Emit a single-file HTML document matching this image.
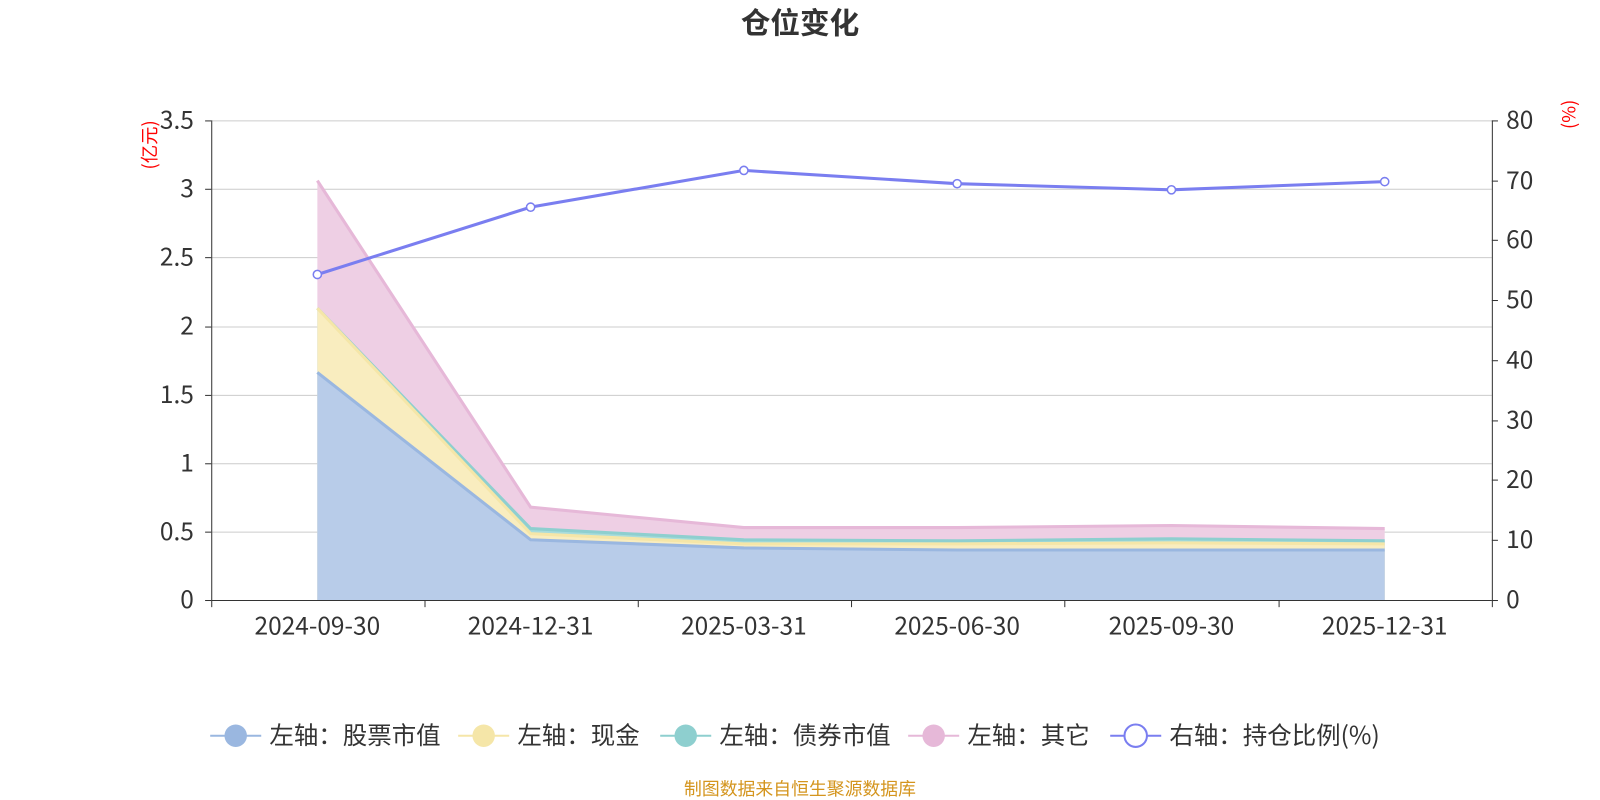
<!DOCTYPE html><html><head><meta charset="utf-8"><style>body{margin:0;background:#fff}svg{display:block}text{font-family:"Noto Sans CJK SC","Liberation Sans",sans-serif}</style></head><body>
<svg width="1600" height="800" viewBox="0 0 1568 784" xmlns="http://www.w3.org/2000/svg">
<text x="784" y="33" text-anchor="middle" font-size="29" font-weight="bold" fill="#333">仓位变化</text>
<g stroke="#ccc" stroke-width="1">
<line x1="207" x2="1462" y1="118.5" y2="118.5"/><line x1="207" x2="1462" y1="185.5" y2="185.5"/><line x1="207" x2="1462" y1="252.5" y2="252.5"/><line x1="207" x2="1462" y1="320.5" y2="320.5"/><line x1="207" x2="1462" y1="387.5" y2="387.5"/><line x1="207" x2="1462" y1="454.5" y2="454.5"/><line x1="207" x2="1462" y1="521.5" y2="521.5"/>
</g>
<polygon points="311,177 520,497 729,517 938,517 1148,515 1357,518 1357,588 311,588" fill="#eecfe4"/>
<polyline points="311,177 520,497 729,517 938,517 1148,515 1357,518" fill="none" stroke="#e6b8d8" stroke-width="3"/>
<polygon points="311,302 520,518 729,529 938,530 1148,528 1357,530 1357,588 311,588" fill="#a8dcdc"/>
<polyline points="311,302 520,518 729,529 938,530 1148,528 1357,530" fill="none" stroke="#8ecfcf" stroke-width="3"/>
<polygon points="311,302 520,523 729,533 938,533 1148,532 1357,533 1357,588 311,588" fill="#f9edbf"/>
<polyline points="311,302 520,523 729,533 938,533 1148,532 1357,533" fill="none" stroke="#f5e6a8" stroke-width="3"/>
<polygon points="311,365 520,529 729,537 938,539 1148,539 1357,539 1357,588 311,588" fill="#b8cce9"/>
<polyline points="311,365 520,529 729,537 938,539 1148,539 1357,539" fill="none" stroke="#9ab7e0" stroke-width="3"/>
<g stroke="#333" stroke-width="1">
<line x1="207.5" y1="118" x2="207.5" y2="588"/><line x1="1462.5" y1="118" x2="1462.5" y2="588"/>
<line x1="207" y1="588.5" x2="1462" y2="588.5"/>
<line x1="201" x2="207" y1="118.5" y2="118.5"/><line x1="201" x2="207" y1="185.5" y2="185.5"/><line x1="201" x2="207" y1="252.5" y2="252.5"/><line x1="201" x2="207" y1="320.5" y2="320.5"/><line x1="201" x2="207" y1="387.5" y2="387.5"/><line x1="201" x2="207" y1="454.5" y2="454.5"/><line x1="201" x2="207" y1="521.5" y2="521.5"/><line x1="201" x2="207" y1="588.5" y2="588.5"/>
<line x1="1462" x2="1468" y1="118.5" y2="118.5"/><line x1="1462" x2="1468" y1="177.5" y2="177.5"/><line x1="1462" x2="1468" y1="235.5" y2="235.5"/><line x1="1462" x2="1468" y1="294.5" y2="294.5"/><line x1="1462" x2="1468" y1="353.5" y2="353.5"/><line x1="1462" x2="1468" y1="412.5" y2="412.5"/><line x1="1462" x2="1468" y1="470.5" y2="470.5"/><line x1="1462" x2="1468" y1="529.5" y2="529.5"/><line x1="1462" x2="1468" y1="588.5" y2="588.5"/>
<line x1="207.5" x2="207.5" y1="588" y2="595"/><line x1="416.5" x2="416.5" y1="588" y2="595"/><line x1="625.5" x2="625.5" y1="588" y2="595"/><line x1="834.5" x2="834.5" y1="588" y2="595"/><line x1="1043.5" x2="1043.5" y1="588" y2="595"/><line x1="1253.5" x2="1253.5" y1="588" y2="595"/><line x1="1462.5" x2="1462.5" y1="588" y2="595"/>
</g>
<g font-size="24" fill="#333" text-anchor="end">
<text x="190" y="126">3.5</text><text x="190" y="193">3</text><text x="190" y="260">2.5</text><text x="190" y="328">2</text><text x="190" y="395">1.5</text><text x="190" y="462">1</text><text x="190" y="529">0.5</text><text x="190" y="596">0</text>
</g>
<g font-size="24" fill="#333">
<text x="1476" y="126">80</text><text x="1476" y="185">70</text><text x="1476" y="243">60</text><text x="1476" y="302">50</text><text x="1476" y="361">40</text><text x="1476" y="420">30</text><text x="1476" y="478">20</text><text x="1476" y="537">10</text><text x="1476" y="596">0</text>
</g>
<g font-size="24" fill="#333" text-anchor="middle">
<text x="311" y="622">2024-09-30</text><text x="520" y="622">2024-12-31</text><text x="729" y="622">2025-03-31</text><text x="938" y="622">2025-06-30</text><text x="1148" y="622">2025-09-30</text><text x="1357" y="622">2025-12-31</text>
</g>
<text transform="translate(153,142) rotate(-90)" font-size="18" fill="#f00" text-anchor="middle">(亿元)</text>
<text transform="translate(1544,112) rotate(-90)" font-size="18" fill="#f00" text-anchor="middle">(%)</text>
<polyline points="311,269 520,203 729,167 938,180 1148,186 1357,178" fill="none" stroke="#7a7ef0" stroke-width="3"/>
<g fill="#fff" stroke="#7a7ef0" stroke-width="1.5">
<circle cx="311" cy="269" r="4"/><circle cx="520" cy="203" r="4"/><circle cx="729" cy="167" r="4"/><circle cx="938" cy="180" r="4"/><circle cx="1148" cy="186" r="4"/><circle cx="1357" cy="178" r="4"/>
</g>
<g font-size="24" fill="#333">
<line x1="206" x2="256" y1="721" y2="721" stroke="#9ab7e0" stroke-width="2"/><circle cx="231" cy="721" r="11" fill="#9ab7e0"/><text x="264" y="729">左轴：股票市值</text>
<line x1="449" x2="499" y1="721" y2="721" stroke="#f5e6a8" stroke-width="2"/><circle cx="474" cy="721" r="11" fill="#f5e6a8"/><text x="507" y="729">左轴：现金</text>
<line x1="647" x2="697" y1="721" y2="721" stroke="#8ecfcf" stroke-width="2"/><circle cx="672" cy="721" r="11" fill="#8ecfcf"/><text x="705" y="729">左轴：债券市值</text>
<line x1="890" x2="940" y1="721" y2="721" stroke="#e6b8d8" stroke-width="2"/><circle cx="915" cy="721" r="11" fill="#e6b8d8"/><text x="948" y="729">左轴：其它</text>
<line x1="1088" x2="1138" y1="721" y2="721" stroke="#7a7ef0" stroke-width="2"/><circle cx="1113" cy="721" r="11" fill="#fff" stroke="#7a7ef0" stroke-width="2"/><text x="1146" y="729">右轴：持仓比例(%)</text>
</g>
<text x="784" y="779" font-size="17.5" fill="#d4951e" text-anchor="middle">制图数据来自恒生聚源数据库</text>
</svg></body></html>
